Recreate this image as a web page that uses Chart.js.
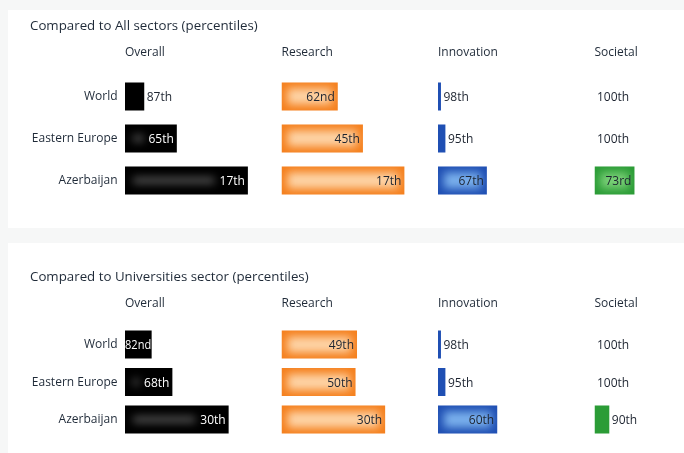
<!DOCTYPE html>
<html><head><meta charset="utf-8">
<script src="https://cdn.jsdelivr.net/npm/chart.js@4.4.1/dist/chart.umd.min.js"></script>
<style>
html,body{margin:0;padding:0;background:#f6f7f7;}
#wrap{position:relative;width:684px;height:453px;overflow:hidden;}
.card{position:absolute;background:#fff;}
canvas{position:absolute;left:0;}
</style></head><body>
<div id="wrap">
<div class="card" style="left:8px;top:10px;width:676px;height:218px"></div>
<div class="card" style="left:8px;top:243px;width:676px;height:210px"></div>
<canvas id="c1" width="684" height="228" style="top:0"></canvas>
<canvas id="c2" width="684" height="210" style="top:243px"></canvas>
</div>
<script>
// ---- data ----
const regions = ['World', 'Eastern Europe', 'Azerbaijan'];
const columns = ['Overall', 'Research', 'Innovation', 'Societal'];
const panelTitles = ['Compared to All sectors (percentiles)', 'Compared to Universities sector (percentiles)'];
// percentiles (rows in order of regions); bar length = distance from the 100th percentile
const allOverall    = [87, 65, 17];
const allResearch   = [62, 45, 17];
const allInnovation = [98, 95, 67];
const allSocietal   = [100, 100, 73];
const uniOverall    = [82, 68, 30];
const uniResearch   = [49, 50, 30];
const uniInnovation = [98, 95, 60];
const uniSocietal   = [100, 100, 90];

// ---- styles ----
const barColors   = ['#000000', '#f5801e', '#1f4fb3', '#2b9c36'];
const glowColors  = ['#5c5c5c', '#fdd3a6', '#7ab0ec', '#7bd078'];
const labelColors = ['#ffffff', '#1d2430', '#1d2430', '#1d2430'];
const textColor = '#1f2a38';
const spans   = [105.7, 105.7, 105.7, 52.87];
const weights = [1, 1, 1, 0.5];
const FONT = "'Open Sans', sans-serif";
Chart.defaults.font.family = FONT;

function ordinal(n) {
  const m100 = n % 100, m10 = n % 10;
  if (m100 >= 11 && m100 <= 13) return n + 'th';
  if (m10 === 1) return n + 'st';
  if (m10 === 2) return n + 'nd';
  if (m10 === 3) return n + 'rd';
  return n + 'th';
}

const decorPlugin = {
  id: 'decor',
  afterDatasetsDraw(chart) {
    const ctx = chart.ctx;
    ctx.save();
    ctx.font = "12px " + FONT;
    chart.data.datasets.forEach((ds, di) => {
      const meta = chart.getDatasetMeta(di);
      meta.data.forEach((el, j) => {
        const p = el.getProps(['x', 'y', 'base', 'height'], true);
        const left = Math.min(p.x, p.base), right = Math.max(p.x, p.base);
        const w = right - left, top = p.y - p.height / 2;
        const text = ordinal(ds.pct[j]);
        const tw = ctx.measureText(text).width;
        const inside = w >= 24;
        let gw = (di === 0) ? w - tw - 16 : w - 12;
        if (gw > 4) {
          ctx.save();
          ctx.beginPath(); ctx.rect(left, top, w, p.height); ctx.clip();
          ctx.filter = 'blur(4px)';
          ctx.fillStyle = glowColors[di];
          if (di === 0) ctx.fillRect(left + 8, p.y - 3, gw, 6);
          else ctx.fillRect(left + 6, top + 6, gw, p.height - 12);
          ctx.restore();
        }
        ctx.textBaseline = 'middle';
        if (inside) {
          ctx.textAlign = 'right';
          ctx.fillStyle = labelColors[di];
          const xe = Math.min(right - 0.5, Math.max(right - 3, left + tw));
          ctx.fillText(text, xe, p.y + 1, w - 0.5);
        } else {
          ctx.textAlign = 'left';
          ctx.fillStyle = '#1d2430';
          ctx.fillText(text, right + 2.5, p.y + 1);
        }
      });
    });
    ctx.restore();
  }
};

function makeChart(id, title, series, padTop, padBottom, hPadBottom) {
  const scales = {
    y: {
      type: 'category', labels: regions, offset: true, position: 'left',
      grid: { display: false, drawTicks: false }, border: { display: false },
      ticks: { padding: 7.5, color: textColor, font: { size: 12 } },
      afterFit(s) { s.width = 95; }
    }
  };
  columns.forEach((c, i) => {
    scales['x' + i] = {
      type: 'linear', position: 'top', stack: 'cols', stackWeight: weights[i],
      weight: columns.length - i,
      min: 0, max: spans[i],
      grid: { display: false, drawTicks: false }, border: { display: false },
      ticks: { display: false },
      title: { display: true, text: c, align: 'start', color: textColor,
               font: { size: 12 }, padding: { top: 9, bottom: hPadBottom } }
    };
  });
  const datasets = series.map((vals, i) => ({
    label: columns[i], xAxisID: 'x' + i, yAxisID: 'y',
    data: vals.map(p => 100 - p), pct: vals,
    backgroundColor: barColors[i], borderWidth: 0, borderSkipped: false,
    inflateAmount: 0, barThickness: 28, grouped: false
  }));
  return new Chart(document.getElementById(id), {
    type: 'bar',
    data: { labels: regions, datasets },
    options: {
      indexAxis: 'y', responsive: false, animation: false, devicePixelRatio: 1,
      layout: { padding: { top: padTop, left: 30, right: 11.25, bottom: padBottom } },
      scales,
      plugins: {
        legend: { display: false }, tooltip: { enabled: false },
        title: { display: true, text: title, align: 'start', color: textColor,
                 font: { size: 13.3, weight: 'normal' }, padding: { top: 8, bottom: 2 } }
      }
    },
    plugins: [decorPlugin]
  });
}

makeChart('c1', panelTitles[0], [allOverall, allResearch, allInnovation, allSocietal], 10, 26.5, 16);
makeChart('c2', panelTitles[1], [uniOverall, uniResearch, uniInnovation, uniSocietal], 18.5, 1, 15);
</script>
</body></html>
